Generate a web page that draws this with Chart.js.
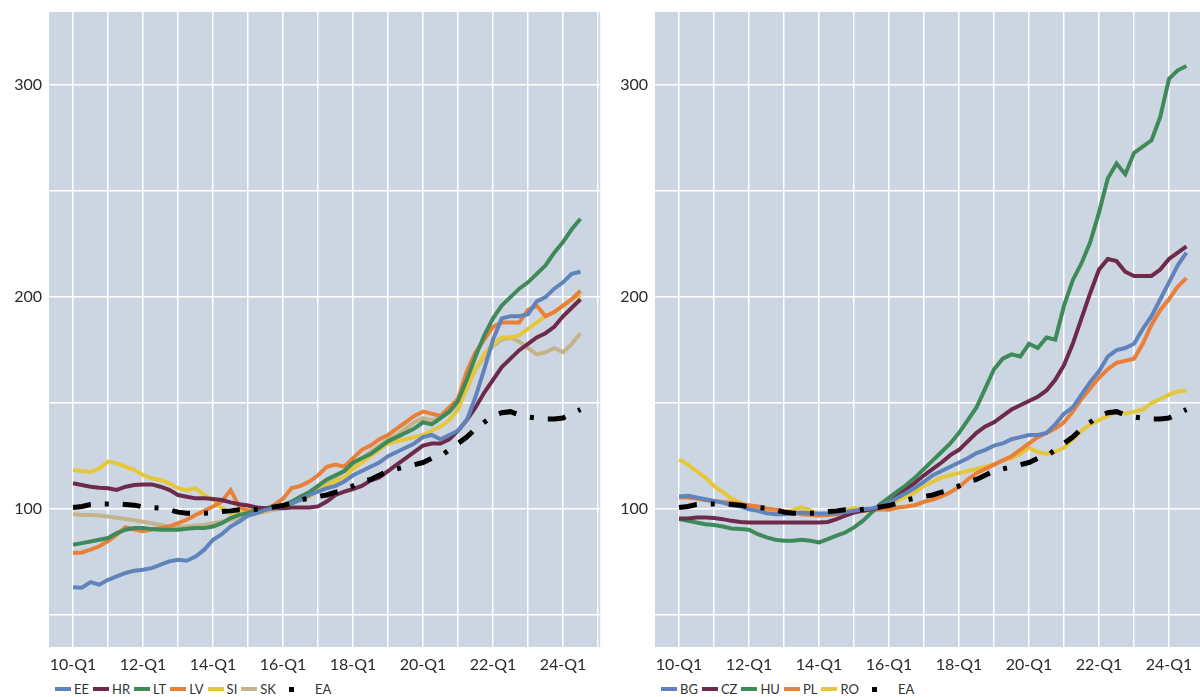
<!DOCTYPE html>
<html>
<head>
<meta charset="utf-8">
<script src="https://cdn.jsdelivr.net/npm/chart.js@4.4.1/dist/chart.umd.min.js"></script>
<style>
  html, body { margin: 0; padding: 0; background: #fff; overflow: hidden; }
  body { width: 1200px; height: 697px; position: relative; font-family: Lato, "Open Sans", sans-serif; }
  .panel { position: absolute; top: 0; width: 606px; height: 697px; }
  .panel canvas { position: absolute; left: 0; top: 0; }
  .legend { position: absolute; top: 681px; left: 55px; display: flex; align-items: center; font-size: 13px; color: #333; white-space: nowrap; }
  .legend-item { display: flex; align-items: center; margin-right: 4px; }
  .legend-line { width: 16px; height: 4px; margin-right: 3px; }
  .legend-dot { width: 30px; height: 16px; margin-right: 5px; position: relative; }
  .legend-dot::after { content: ""; position: absolute; left: 9px; top: 6px; width: 5px; height: 5px; background: #000; }
</style>
</head>
<body>
<div class="panel" style="left:0">
  <canvas id="leftChart" width="606" height="680"></canvas>
  <div class="legend" id="leftLegend"></div>
</div>
<div class="panel" style="left:606px">
  <canvas id="rightChart" width="606" height="680"></canvas>
  <div class="legend" id="rightLegend"></div>
</div>
<script>
const quarters = [
  "10-Q1","10-Q2","10-Q3","10-Q4","11-Q1","11-Q2","11-Q3","11-Q4",
  "12-Q1","12-Q2","12-Q3","12-Q4","13-Q1","13-Q2","13-Q3","13-Q4",
  "14-Q1","14-Q2","14-Q3","14-Q4","15-Q1","15-Q2","15-Q3","15-Q4",
  "16-Q1","16-Q2","16-Q3","16-Q4","17-Q1","17-Q2","17-Q3","17-Q4",
  "18-Q1","18-Q2","18-Q3","18-Q4","19-Q1","19-Q2","19-Q3","19-Q4",
  "20-Q1","20-Q2","20-Q3","20-Q4","21-Q1","21-Q2","21-Q3","21-Q4",
  "22-Q1","22-Q2","22-Q3","22-Q4","23-Q1","23-Q2","23-Q3","23-Q4",
  "24-Q1","24-Q2","24-Q3"
];
const tickLabels = ["10-Q1","12-Q1","14-Q1","16-Q1","18-Q1","20-Q1","22-Q1","24-Q1"];
const yLabels = [100, 200, 300];
const yGrid = [50, 100, 150, 200, 250, 300];

// left panel
const EE = [63.2,63,65.6,64.4,66.7,68.3,69.9,71,71.4,72.2,73.8,75.4,76.1,75.7,77.7,80.9,85.6,88.2,91.8,94.2,97,98.1,99.7,100.5,101.3,102.8,104.4,106.7,108.3,109.9,111,113,116,118,120,122,125,127,129,131,134,135,133,135,137,142,153,166,180,190,191,191,192,198,200,204,207,211,212];
const HR = [112.2,111.4,110.6,110.1,109.9,109.1,110.6,111.4,111.7,111.7,110.6,109.1,106.7,105.9,105.1,105.1,104.8,104.3,103.2,102.3,101.7,100.8,100.5,100.5,100.5,100.8,100.8,100.8,101.3,103.6,106.7,108.3,109.5,111,113.5,115,118,121,124,127,130,131,131,133,137,142,148,155,161,167,171,175,178,181,183,186,191,195,199];
const LT = [83.2,84,84.8,85.6,86.4,88.7,90.3,91.1,91.1,90.6,90.3,90.3,90.3,90.8,91.1,91.1,91.8,93.4,95.8,97.3,98.1,99.7,100.5,101.3,102,103.6,106,108,111,114,116,118,122,124,126,129,132,134,136,138,141,140,143,146,151,161,172,182,190,196,200,204,207,211,215,221,226,232,237];
const LV = [79.3,79.6,80.9,82.5,84.9,88,91.5,90.4,89.6,90.4,91.1,91.9,93.4,95,97.3,99.2,101.3,103.6,109,101.3,99,99,99.7,102,105,110,111,113,116,120,121,120,124,128,130,133,135,138,141,144,146,145,144,148,152,165,174,180,186,188,188,188,194,196,191,193,196,199,203];
const SI = [118.5,118,117.6,119.2,122.4,121.6,120,118.5,116.1,114.6,113.8,112.2,109.9,109,109.9,106.7,104.4,100.5,98.1,98.9,99.7,99.7,98.9,100.5,101.3,102.8,104.4,106,109,111,113,115,119,122,125,128,131,132,133,134,135,137,139,142,147,157,166,173,178,181,181,182,185,188,191,193,196,199,201];
const SK = [97.6,97.3,97.3,97,96.5,96,95.4,94.8,94.1,93.4,92.6,91.8,91.7,91.8,92.3,92.6,93.4,94.1,94.9,95.7,97,98.1,98.9,99.7,100.8,102.8,104.4,106,110,113,115,118,121,124,127,130,133,135,138,141,143,142,143,146,149,157,166,172,177,180,181,179,176,173,174,176,174,178,183];
// euro area, shown in both panels
const EA = [100.8,101.3,102.2,102.5,102.5,102.5,102.2,101.9,101.1,100.8,100.5,99.7,98.6,98.1,98.1,98.1,98.4,98.9,99.2,99.7,99.7,100,100.5,101.1,101.7,102.8,104.4,105.2,106,106.7,108,109.1,111,113,114,116,118,119,120,121,122,124,125,128,131,134,138,141,144,145.5,146,144.5,143.5,143,142.5,142.5,143,145,147];

// right panel
const BG = [106,106.3,105.5,104.7,103.9,103.1,101.9,101.3,100,99.2,98.1,97.6,97.6,98.1,98.4,98.1,98,98,98.1,98.7,99.2,100,100.3,101.3,103.1,105.5,107.8,110.2,113,116,118,120,122,124,126.5,128,130,131,133,134,135,135,136,140,145,148,154,160,165,172,175,176,178,185,191,199,207,215,221];
const CZ = [95.6,95.6,96.1,96.1,95.8,95.3,94.5,94,93.7,93.7,93.7,93.7,93.7,93.7,93.7,93.7,93.7,94,95.3,96.9,98.4,99.2,100,100.8,103.1,106.3,109.4,112.6,116,119,122,125.5,128,132,136,139,141,144,147,149,151,153,156,161,168,178,190,202,213,218,217,212,210,210,210,213,218,221,224];
const HU = [95.3,94.5,93.7,92.9,92.5,91.8,90.9,90.6,90.3,88.2,86.7,85.6,85.1,85.1,85.6,85.1,84.3,85.9,87.5,89,91.4,94.5,98.4,102.4,105.5,108.5,111.5,115,119,123,127,131,136,142,148,157,166,171,173,172,178,176,181,180,196,208,216,226,240,256,263,258,268,271,274,285,303,307,309];
const PL = [105.5,105.5,105,104.2,103.9,103.4,103.1,102.4,101.9,101.3,100.3,99.7,99.2,98.4,97.6,97.2,96.9,97.2,97.6,98.4,99.2,99.2,99.7,100,99.7,100.8,101.3,102,103.5,104.5,106,108,110.5,114,117,119,121,123,125,128,131,134,136,138,141,146,152,157,162,166,169,170,171,178,187,194,199,205,209];
const RO = [123.5,121,118,115,111,108,105,103,101.5,100,99,98,98.5,99.5,101,99.5,97.5,97,98,99.5,100.5,100,99,100,102,104,106,108,111,113,115,116,117,118,119,120,121,123,124,126,129,127,126,127,129,133,137,140,142,144,146,145,146,147,150,152,154,155.5,156];

const COLORS = {
  blue: "#5f83ba",
  maroon: "#6d2a4a",
  green: "#3f8a59",
  orange: "#e8803a",
  yellow: "#e5c73b",
  tan: "#c4b48b",
};

const leftSeries = [
  { label: "EE", data: EE, color: COLORS.blue },
  { label: "HR", data: HR, color: COLORS.maroon },
  { label: "LT", data: LT, color: COLORS.green },
  { label: "LV", data: LV, color: COLORS.orange },
  { label: "SI", data: SI, color: COLORS.yellow },
  { label: "SK", data: SK, color: COLORS.tan },
];
const rightSeries = [
  { label: "BG", data: BG, color: COLORS.blue },
  { label: "CZ", data: CZ, color: COLORS.maroon },
  { label: "HU", data: HU, color: COLORS.green },
  { label: "PL", data: PL, color: COLORS.orange },
  { label: "RO", data: RO, color: COLORS.yellow },
];

const plotBackground = {
  id: "plotBackground",
  beforeDraw(chart) {
    const { ctx, chartArea: a } = chart;
    ctx.save();
    ctx.fillStyle = "#ccd6e3";
    ctx.fillRect(a.left, a.top, a.right - a.left, a.bottom - a.top);
    ctx.restore();
  },
};

Chart.defaults.font.family = "Lato, 'Open Sans', sans-serif";

function toPoints(values) {
  return values.map((v, i) => ({ x: i, y: v }));
}

function buildChart(canvasId, series) {
  const datasets = series.map(s => ({
    label: s.label,
    data: toPoints(s.data),
    borderColor: s.color,
    borderWidth: 4,
    pointRadius: 0,
    tension: 0,
  }));
  datasets.push({
    label: "EA",
    data: toPoints(EA),
    borderColor: "#000",
    borderWidth: 5,
    borderDash: [18, 14, 4, 14],
    borderCapStyle: "butt",
    pointRadius: 0,
    tension: 0,
    order: -1,
  });

  new Chart(document.getElementById(canvasId), {
    type: "line",
    data: { datasets },
    plugins: [plotBackground],
    options: {
      responsive: false,
      animation: false,
      layout: { padding: { top: 12, right: 1, bottom: 0, left: 0 } },
      plugins: { legend: { display: false }, tooltip: { enabled: false } },
      scales: {
        x: {
          type: "linear",
          min: -2.75,
          max: 60.25,
          afterBuildTicks: scale => {
            const ticks = [];
            for (let i = 0; i <= 60; i += 4) ticks.push({ value: i });
            scale.ticks = ticks;
          },
          afterFit: scale => { scale.height = 33; },
          ticks: {
            autoSkip: false,
            maxRotation: 0,
            padding: 8,
            color: "#2b2b2b",
            font: { size: 16 },
            callback: v => (tickLabels.includes(quarters[v]) ? quarters[v] : ""),
          },
          grid: { color: "#ffffff", lineWidth: 1.5, drawTicks: false },
          border: { display: false },
        },
        y: {
          min: 35,
          max: 334.5,
          afterBuildTicks: scale => { scale.ticks = yGrid.map(v => ({ value: v })); },
          afterFit: scale => {
            scale.width = 49;
            scale.paddingTop = 0;
            scale.paddingBottom = 0;
          },
          ticks: {
            padding: 7,
            color: "#2b2b2b",
            font: { size: 16 },
            callback: v => (yLabels.includes(v) ? String(v) : ""),
          },
          grid: { color: "#ffffff", lineWidth: 1.5, drawTicks: false },
          border: { display: false },
        },
      },
    },
  });
}

function renderLegend(containerId, series) {
  const items = series.map(s => `
    <div class="legend-item">
      <div class="legend-line" style="background:${s.color}"></div>
      <span>${s.label}</span>
    </div>
  `);
  items.push(`
    <div class="legend-item">
      <div class="legend-dot"></div>
      <span>EA</span>
    </div>
  `);
  document.getElementById(containerId).innerHTML = items.join("");
}

buildChart("leftChart", leftSeries);
buildChart("rightChart", rightSeries);
renderLegend("leftLegend", leftSeries);
renderLegend("rightLegend", rightSeries);
</script>
</body>
</html>
